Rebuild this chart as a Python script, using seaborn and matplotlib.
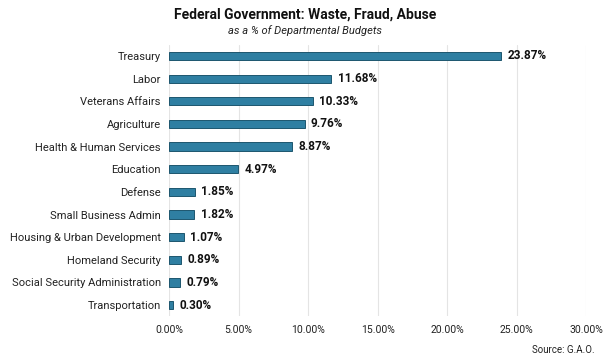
import matplotlib
matplotlib.use("Agg")
import matplotlib.pyplot as plt
import seaborn as sns
import pandas as pd
from matplotlib.ticker import FuncFormatter

departments = [
    "Treasury",
    "Labor",
    "Veterans Affairs",
    "Agriculture",
    "Health & Human Services",
    "Education",
    "Defense",
    "Small Business Admin",
    "Housing & Urban Development",
    "Homeland Security",
    "Social Security Administration",
    "Transportation",
]
pct = [23.87, 11.68, 10.33, 9.76, 8.87, 4.97, 1.85, 1.82, 1.07, 0.89, 0.79, 0.30]
x_ticks = [0, 5, 10, 15, 20, 25, 30]

df = pd.DataFrame({"dept": departments, "pct": pct})

sns.set_style("white")
plt.rcParams["font.family"] = ["Roboto", "DejaVu Sans"]

fig = plt.figure(figsize=(6.1, 3.6), dpi=100)
ax = fig.add_axes([0.277, 0.121, 0.684, 0.755])

sns.barplot(
    data=df,
    y="dept",
    x="pct",
    order=departments,
    color="#2f7fa2",
    width=0.36,
    edgecolor="#1d566e",
    linewidth=0.7,
    saturation=1,
    ax=ax,
)

for i, v in enumerate(pct):
    ax.text(v + 0.45, i, f"{v:.2f}%", va="center", ha="left",
            fontsize=8.5, fontweight="bold", color="#111111")

ax.set_xlim(0, 30)
ax.set_xticks(x_ticks)
ax.xaxis.set_major_formatter(FuncFormatter(lambda v, p: f"{v:.2f}%"))
ax.grid(axis="x", color="#e4e4e4", linewidth=0.8)
ax.set_axisbelow(True)
for s in ax.spines.values():
    s.set_visible(False)
ax.tick_params(axis="both", length=0, colors="#222222")
ax.tick_params(axis="x", pad=6, labelsize=7.5)
ax.tick_params(axis="y", pad=6, labelsize=8)
ax.set_xlabel("")
ax.set_ylabel("")

fig.text(0.5, 0.96, "Federal Government: Waste, Fraud, Abuse", ha="center",
         va="center", fontsize=10, fontweight="bold", color="#111111")
fig.text(0.5, 0.914, "as a % of Departmental Budgets", ha="center",
         va="center", fontsize=8, style="italic", color="#222222")
fig.text(0.975, 0.028, "Source: G.A.O.", ha="right", va="center",
         fontsize=7, color="#222222")

fig.savefig("out.png", dpi=100)
